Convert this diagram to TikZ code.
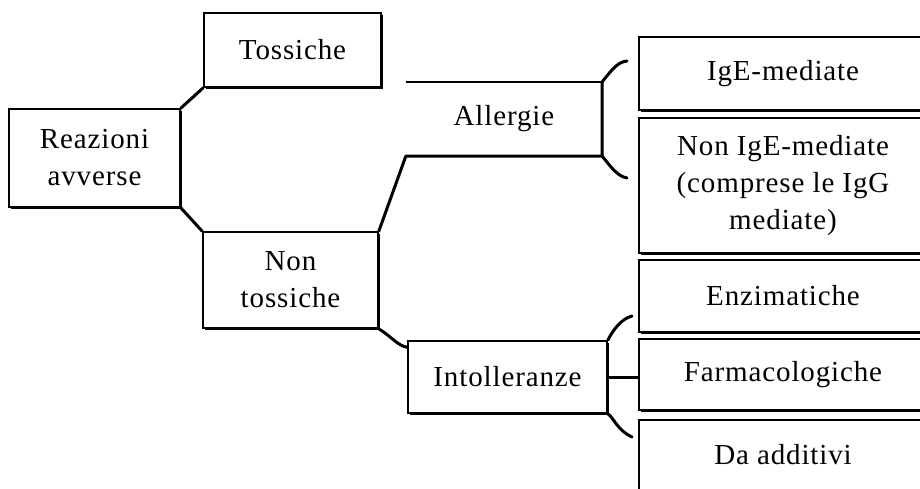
\documentclass[tikz,border=0pt]{standalone}
\usepackage{fontspec}
\setmainfont[LetterSpace=3]{Liberation Serif}
\usetikzlibrary{shadows}

\begin{document}
\begin{tikzpicture}
  [
    x = 1pt, y = -1pt,
    box/.style = {rectangle, draw, fill = white, line width = 1.6pt,
                  inner sep = 0pt, align = center,
                  font = \fontsize{29}{37}\selectfont,
                  drop shadow = {shadow xshift = 2pt, shadow yshift = -2pt,
                                 fill = black, opacity = 1}},
    leftbox/.style = {box, minimum width = 175pt},
    rightbox/.style = {box, minimum width = 288pt},
    label/.style = {rectangle, inner sep = 0pt, align = center,
                    font = \fontsize{29}{37}\selectfont},
    link/.style = {line width = 3pt, line join = round, line cap = round},
    thinlink/.style = {line width = 1.5pt},
  ]
  \clip (0,0) rectangle (920,488);

  \node[leftbox, minimum width = 171pt, minimum height = 98pt] (reazioni) at (94.5,158) {Reazioni\\avverse};
  \node[leftbox, minimum width = 177pt, minimum height = 74pt] (tossiche) at (292.5,50) {Tossiche};
  \node[leftbox, minimum height = 96pt] (non_tossiche) at (290.5,280) {Non\\tossiche};

  \node[label, minimum width = 196pt, minimum height = 74pt] (allergie) at (504,119) {Allergie};
  \node[box, minimum width = 199pt, minimum height = 72pt] (intolleranze) at (507.5,377) {Intolleranze};

  \node[rightbox, minimum height = 73pt] (ige) at (783,73.5) {IgE-mediate};
  \node[rightbox, minimum height = 135pt] (non_ige) at (783,185.5) {Non IgE-mediate\\(comprese le IgG\\mediate)};
  \node[rightbox, minimum height = 72pt] (enzimatiche) at (783,296) {Enzimatiche};
  \node[rightbox, minimum height = 71pt] (farmaco) at (783,374.5) {Farmacologiche};
  \node[rightbox, minimum height = 70pt] (additivi) at (783,455) {Da additivi};

  % free ends of the brackets
  \coordinate (all_up) at (627,61);
  \coordinate (all_down) at (627,178);
  \coordinate (int_up) at (632,316);
  \coordinate (int_down) at (632,437);
  \coordinate (int_in) at ([yshift = -7pt]intolleranze.north west);

  \draw[link] (reazioni.north east) -- (tossiche.south west);
  \draw[link] (reazioni.south east) -- (non_tossiche.north west);
  \draw[link] (non_tossiche.north east) -- (allergie.south west) -- (allergie.south east) -- (allergie.north east);
  \draw[thinlink] (allergie.north west) -- (allergie.north east);
  \draw[link] (non_tossiche.south east) .. controls (392,337) and (398,346) .. (int_in);

  \draw[link] (allergie.north east) .. controls (611,71) and (617,62) .. (all_up);
  \draw[link] (allergie.south east) .. controls (611,167) and (617,176) .. (all_down);
  \draw[link] (intolleranze.north east) .. controls (613,330) and (621,319) .. (int_up);
  \draw[link] (intolleranze.south east) .. controls (614,418) and (617,430) .. (int_down);
  \draw[link] (intolleranze.east) -- (intolleranze.east -| farmaco.west);
\end{tikzpicture}
\end{document}
